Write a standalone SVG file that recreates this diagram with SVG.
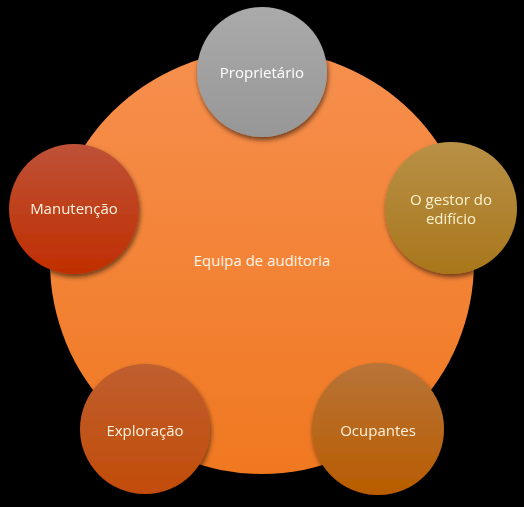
<svg xmlns="http://www.w3.org/2000/svg" width="524" height="507" viewBox="0 0 524 507">
<style>
.lbl{font-family:"Open Sans","Liberation Sans",sans-serif;font-size:15px;text-anchor:middle;dominant-baseline:central}
</style>
<defs>
<linearGradient id="gBig" x1="0" y1="0" x2="0" y2="1"><stop offset="0" stop-color="#f68f4e"/><stop offset="1" stop-color="#f07820"/></linearGradient>
<linearGradient id="gGray" x1="0" y1="0" x2="0" y2="1"><stop offset="0" stop-color="#aaaaaa"/><stop offset="1" stop-color="#979797"/></linearGradient>
<linearGradient id="gGold" x1="0" y1="0" x2="0" y2="1"><stop offset="0" stop-color="#b89046"/><stop offset="1" stop-color="#a8771c"/></linearGradient>
<linearGradient id="gOcu" x1="0" y1="0" x2="0" y2="1"><stop offset="0" stop-color="#b87438"/><stop offset="1" stop-color="#b85c00"/></linearGradient>
<linearGradient id="gExp" x1="0" y1="0" x2="0" y2="1"><stop offset="0" stop-color="#bf5e30"/><stop offset="1" stop-color="#c24c08"/></linearGradient>
<linearGradient id="gMan" x1="0" y1="0" x2="0" y2="1"><stop offset="0" stop-color="#be5238"/><stop offset="1" stop-color="#c02e00"/></linearGradient>
<filter id="sh" x="-20%" y="-20%" width="140%" height="140%"><feGaussianBlur in="SourceAlpha" stdDeviation="2.5"/><feOffset dx="1" dy="3" result="b"/><feComponentTransfer><feFuncA type="linear" slope="0.55"/></feComponentTransfer><feMerge><feMergeNode/><feMergeNode in="SourceGraphic"/></feMerge></filter>
</defs>
<rect width="524" height="507" fill="#000"/>
<g id="equipa">
<circle cx="262" cy="262" r="212" fill="url(#gBig)"/>
<text class="lbl" x="262" y="260" fill="#fff4e6">Equipa de auditoria</text>
</g>
<g id="connectors"></g>
<g id="proprietario" filter="url(#sh)">
<circle cx="262" cy="72" r="65" fill="url(#gGray)"/>
<text class="lbl" x="262" y="72" fill="#ffffff">Proprietário</text>
</g>
<g id="gestor" filter="url(#sh)">
<circle cx="451" cy="208" r="66" fill="url(#gGold)"/>
<text class="lbl" x="451" y="199" fill="#fff2d0"><tspan x="451" y="199">O gestor do</tspan><tspan x="451" y="218">edifício</tspan></text>
</g>
<g id="ocupantes" filter="url(#sh)">
<circle cx="378" cy="429" r="66" fill="url(#gOcu)"/>
<text class="lbl" x="378" y="430" fill="#fff2dc">Ocupantes</text>
</g>
<g id="exploracao" filter="url(#sh)">
<circle cx="145" cy="429" r="65" fill="url(#gExp)"/>
<text class="lbl" x="145" y="430" fill="#fff2dc">Exploração</text>
</g>
<g id="manutencao" filter="url(#sh)">
<circle cx="74" cy="209" r="65" fill="url(#gMan)"/>
<text class="lbl" x="74" y="208" fill="#fff2dc">Manutenção</text>
</g>
</svg>
